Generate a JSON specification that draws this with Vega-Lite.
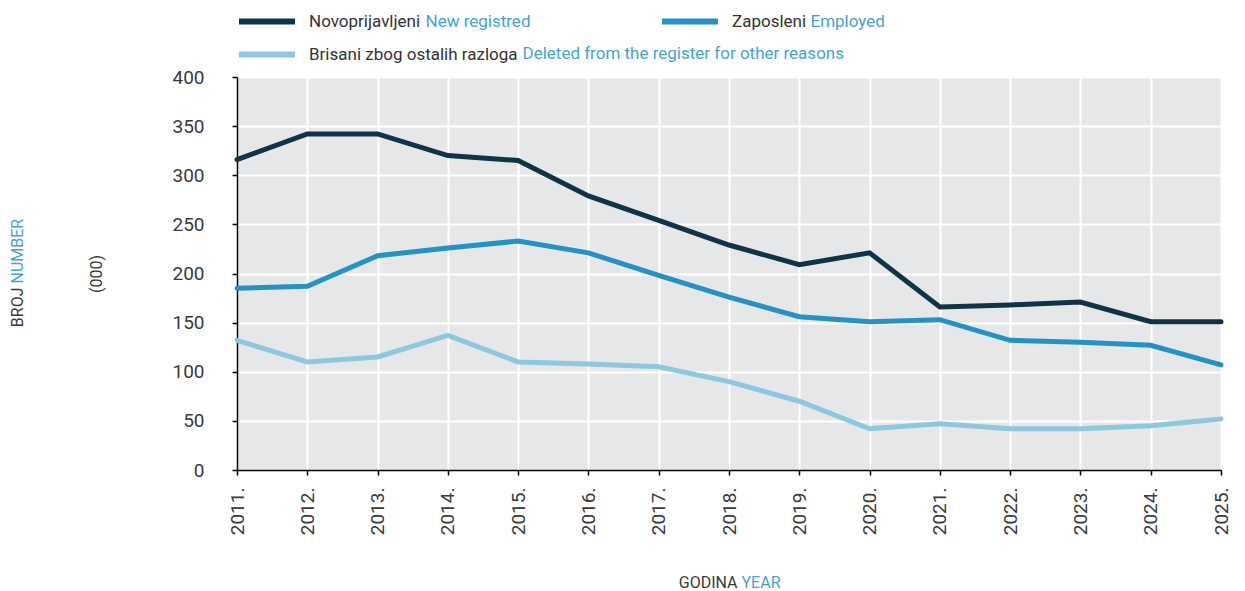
{
  "$schema": "https://vega.github.io/schema/vega-lite/v6.json",
  "width": 984,
  "height": 393,
  "autosize": {"type": "none"},
  "padding": {"left": 237, "top": 77, "right": 24, "bottom": 121},
  "background": "white",
  "config": {"view": {"fill": "#e6e7e9", "stroke": null}, "font": "Roboto"},
  "data": {"values": [
    {"year": "2011.", "series": "Novoprijavljeni", "value": 316},
    {"year": "2012.", "series": "Novoprijavljeni", "value": 342},
    {"year": "2013.", "series": "Novoprijavljeni", "value": 342},
    {"year": "2014.", "series": "Novoprijavljeni", "value": 320},
    {"year": "2015.", "series": "Novoprijavljeni", "value": 315},
    {"year": "2016.", "series": "Novoprijavljeni", "value": 279},
    {"year": "2017.", "series": "Novoprijavljeni", "value": 254},
    {"year": "2018.", "series": "Novoprijavljeni", "value": 229},
    {"year": "2019.", "series": "Novoprijavljeni", "value": 209},
    {"year": "2020.", "series": "Novoprijavljeni", "value": 221},
    {"year": "2021.", "series": "Novoprijavljeni", "value": 166},
    {"year": "2022.", "series": "Novoprijavljeni", "value": 168},
    {"year": "2023.", "series": "Novoprijavljeni", "value": 171},
    {"year": "2024.", "series": "Novoprijavljeni", "value": 151},
    {"year": "2025.", "series": "Novoprijavljeni", "value": 151},
    {"year": "2011.", "series": "Zaposleni", "value": 185},
    {"year": "2012.", "series": "Zaposleni", "value": 187},
    {"year": "2013.", "series": "Zaposleni", "value": 218},
    {"year": "2014.", "series": "Zaposleni", "value": 226},
    {"year": "2015.", "series": "Zaposleni", "value": 233},
    {"year": "2016.", "series": "Zaposleni", "value": 221},
    {"year": "2017.", "series": "Zaposleni", "value": 198},
    {"year": "2018.", "series": "Zaposleni", "value": 176},
    {"year": "2019.", "series": "Zaposleni", "value": 156},
    {"year": "2020.", "series": "Zaposleni", "value": 151},
    {"year": "2021.", "series": "Zaposleni", "value": 153},
    {"year": "2022.", "series": "Zaposleni", "value": 132},
    {"year": "2023.", "series": "Zaposleni", "value": 130},
    {"year": "2024.", "series": "Zaposleni", "value": 127},
    {"year": "2025.", "series": "Zaposleni", "value": 107},
    {"year": "2011.", "series": "Brisani zbog ostalih razloga", "value": 132},
    {"year": "2012.", "series": "Brisani zbog ostalih razloga", "value": 110},
    {"year": "2013.", "series": "Brisani zbog ostalih razloga", "value": 115},
    {"year": "2014.", "series": "Brisani zbog ostalih razloga", "value": 137},
    {"year": "2015.", "series": "Brisani zbog ostalih razloga", "value": 110},
    {"year": "2016.", "series": "Brisani zbog ostalih razloga", "value": 108},
    {"year": "2017.", "series": "Brisani zbog ostalih razloga", "value": 105},
    {"year": "2018.", "series": "Brisani zbog ostalih razloga", "value": 90},
    {"year": "2019.", "series": "Brisani zbog ostalih razloga", "value": 70},
    {"year": "2020.", "series": "Brisani zbog ostalih razloga", "value": 42},
    {"year": "2021.", "series": "Brisani zbog ostalih razloga", "value": 47},
    {"year": "2022.", "series": "Brisani zbog ostalih razloga", "value": 42},
    {"year": "2023.", "series": "Brisani zbog ostalih razloga", "value": 42},
    {"year": "2024.", "series": "Brisani zbog ostalih razloga", "value": 45},
    {"year": "2025.", "series": "Brisani zbog ostalih razloga", "value": 52}
  ]},
  "layer": [
    {
      "mark": {"type": "line", "strokeWidth": 5, "strokeCap": "round"},
      "encoding": {
        "x": {"field": "year", "type": "ordinal", "scale": {"type": "point", "padding": 0},
          "axis": {"orient": "bottom", "title": null, "labelAngle": -90, "labelFontSize": 19, "labelColor": "#3a3a3a",
            "labelPadding": 12, "tickSize": 5, "tickColor": "black", "tickWidth": 1.5, "domainColor": "black", "domainWidth": 1.5,
            "grid": true, "gridColor": "white", "gridWidth": 2}},
        "y": {"field": "value", "type": "quantitative", "scale": {"domain": [0, 400]},
          "axis": {"orient": "left", "values": [0, 50, 100, 150, 200, 250, 300, 350, 400],
            "title": "(000)", "titleX": -141, "titleY": 196.5, "titleAngle": 270, "titleAlign": "center", "titleBaseline": "middle",
            "titleFontSize": 16, "titleFontWeight": "normal", "titleColor": "#3a3a3a",
            "labelFontSize": 19, "labelColor": "#3a3a3a", "labelPadding": 28, "tickSize": 5, "tickColor": "black", "tickWidth": 1.5,
            "domainColor": "black", "domainWidth": 1.5, "grid": true, "gridColor": "white", "gridWidth": 2}},
        "color": {"field": "series", "type": "nominal",
          "scale": {"domain": ["Novoprijavljeni", "Zaposleni", "Brisani zbog ostalih razloga"], "range": ["#0f3447", "#2592c3", "#8ec8df"]},
          "legend": {"orient": "none", "direction": "horizontal", "legendX": 20, "legendY": -65.5, "columns": 2, "columnPadding": 132, "rowPadding": 9,
            "title": null, "symbolType": "M-4,0H4", "symbolSize": 196, "symbolStrokeWidth": 6, "labelFontSize": 17,
            "labelColor": "#333333", "labelOffset": 32, "padding": 0, "gridAlign": "each", "labelLimit": 500}}
      }
    },
    {
      "mark": {"type": "point", "opacity": 0},
      "encoding": {
        "x": {"field": "year", "type": "ordinal", "axis": {"orient": "bottom", "title": "GODINA", "titleX": 500, "titleY": 112,
          "titleAlign": "right", "titleBaseline": "middle", "titleFontSize": 16, "titleFontWeight": "normal", "titleColor": "#3a3a3a",
          "labels": false, "ticks": false, "domain": false, "grid": false}},
        "y": {"field": "value", "type": "quantitative", "axis": {"orient": "left", "title": "BROJ", "titleX": -220, "titleY": 210, "titleAngle": 270,
          "titleAlign": "right", "titleBaseline": "middle", "titleFontSize": 16, "titleFontWeight": "normal", "titleColor": "#3a3a3a",
          "labels": false, "ticks": false, "domain": false, "grid": false}}
      }
    },
    {
      "mark": {"type": "point", "opacity": 0},
      "encoding": {
        "x": {"field": "year", "type": "ordinal", "axis": {"orient": "bottom", "title": "YEAR", "titleX": 504, "titleY": 112,
          "titleAlign": "left", "titleBaseline": "middle", "titleFontSize": 16, "titleFontWeight": "normal", "titleColor": "#45a3d2",
          "labels": false, "ticks": false, "domain": false, "grid": false}},
        "y": {"field": "value", "type": "quantitative", "axis": {"orient": "left", "title": "NUMBER", "titleX": -220, "titleY": 206, "titleAngle": 270,
          "titleAlign": "left", "titleBaseline": "middle", "titleFontSize": 16, "titleFontWeight": "normal", "titleColor": "#45a3d2",
          "labels": false, "ticks": false, "domain": false, "grid": false}}
      }
    },
    {
      "mark": {"type": "point", "opacity": 0},
      "encoding": {
        "x": {"field": "year", "type": "ordinal", "axis": {"orient": "top", "title": "New registred", "titleX": 188, "titleY": -56,
          "titleAlign": "left", "titleBaseline": "middle", "titleFontSize": 17, "titleFontWeight": "normal", "titleColor": "#45a3d2",
          "labels": false, "ticks": false, "domain": false, "grid": false}},
        "y": {"field": "value", "type": "quantitative", "axis": {"orient": "left", "title": "Employed", "titleX": 573, "titleY": -56, "titleAngle": 0,
          "titleAlign": "left", "titleBaseline": "middle", "titleFontSize": 17, "titleFontWeight": "normal", "titleColor": "#45a3d2",
          "labels": false, "ticks": false, "domain": false, "grid": false}}
      }
    },
    {
      "mark": {"type": "point", "opacity": 0},
      "encoding": {
        "x": {"field": "year", "type": "ordinal", "axis": {"orient": "top", "title": "Deleted from the register for other reasons", "titleX": 285, "titleY": -24,
          "titleAlign": "left", "titleBaseline": "middle", "titleFontSize": 17, "titleFontWeight": "normal", "titleColor": "#45a3d2",
          "labels": false, "ticks": false, "domain": false, "grid": false}},
        "y": {"field": "value", "type": "quantitative", "axis": null}
      }
    }
  ],
  "resolve": {"axis": {"x": "independent", "y": "independent"}}
}
